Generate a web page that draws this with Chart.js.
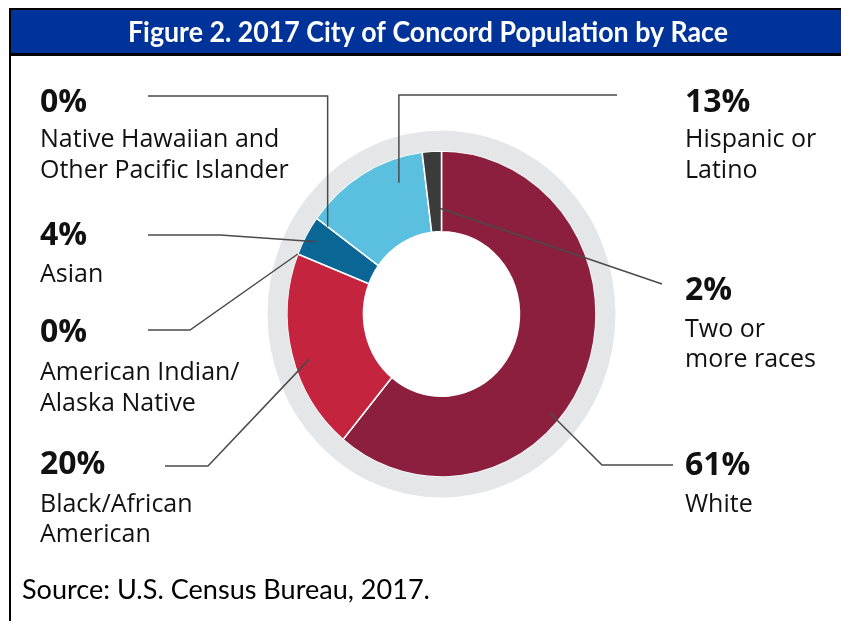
<!DOCTYPE html>
<html>
<head>
<meta charset="utf-8">
<title>2017 City of Concord Population by Race</title>
<script src="https://cdn.jsdelivr.net/npm/chart.js@4.4.1/dist/chart.umd.min.js"></script>
<style>
  html, body { margin: 0; padding: 0; background: #fff; }
  #wrap { position: relative; width: 841px; height: 621px; overflow: hidden; background: #fff; }
  canvas { position: absolute; left: 0; top: 0; }
</style>
</head>
<body>
<div id="wrap"><canvas id="chart" width="841" height="621"></canvas></div>
<script>
// ---- data ----
const categories = [
  'White',
  'Black/African American',
  'American Indian/Alaska Native',
  'Asian',
  'Native Hawaiian and Other Pacific Islander',
  'Hispanic or Latino',
  'Two or more races'
];
const shares = [61, 20, 0, 4, 0, 13, 2];          // percent of population
const nameLines = [
  ['White'],
  ['Black/African', 'American'],
  ['American Indian/', 'Alaska Native'],
  ['Asian'],
  ['Native Hawaiian and', 'Other Pacific Islander'],
  ['Hispanic or', 'Latino'],
  ['Two or', 'more races']
];
const titleText = 'Figure 2. 2017 City of Concord Population by Race';
const sourceText = 'Source: U.S. Census Bureau, 2017.';

// ---- styling ----
const sliceColors = ['#8C1F3E', '#C5243F', '#B0203F', '#0A6694', '#3FA9D2', '#5BC0DF', '#3B3B3B'];
const ringColor = '#E5E6E8';
const bandBlue = '#003399';
const lineColor = '#4A4A4A';
const SY = 1.055;   // vertical stretch of the doughnut

// label block placement: text x, percent baseline, name baselines,
// where on the slice the leader starts (fraction along the arc, fraction across the ring)
// and the fixed points of the leader path from the text side
const labelLayout = [
  { x: 685, pct: 475, names: [512],      frac: 0.596, rf: 0.855, path: [[673, 465], [602, 465]] },
  { x: 40,  pct: 474, names: [512, 542], frac: 0.45,  rf: 0.80,  path: [[165, 466], [208, 466]] },
  { x: 40,  pct: 342, names: [380, 411], frac: 0.5,   rf: 1.0,   path: [[148, 330], [190, 330]] },
  { x: 40,  pct: 245, names: [282],      frac: 0.5,   rf: 0.84,  path: [[148, 235], [220, 235]] },
  { x: 40,  pct: 112, names: [147, 178], frac: 0.5,   rf: 0.82,  path: [[148, 96], ['ax', 96]] },
  { x: 685, pct: 112, names: [147, 178], frac: 0.75,  rf: 0.70,  path: [[617, 95], ['ax', 95]] },
  { x: 685, pct: 300, names: [337, 367], frac: 0.87,  rf: 0.29,  path: [[662, 284]] }
];

function fitText(ctx, text, x, y, font, width, align) {
  ctx.save();
  ctx.font = font;
  const w = ctx.measureText(text).width;
  const k = width / w;
  ctx.translate(x, y);
  ctx.scale(k, 1);
  ctx.textAlign = align || 'left';
  ctx.fillText(text, 0, 0);
  ctx.restore();
}

// frame, blue heading band and source line
const framePlugin = {
  id: 'frame',
  beforeDraw(chart) {
    const ctx = chart.ctx;
    ctx.save();
    ctx.fillStyle = '#000';
    ctx.fillRect(9, 8, 2, 613);        // left rule
    ctx.fillRect(9, 8, 832, 2);        // top rule
    ctx.fillRect(9, 53, 832, 3);       // rule under band
    ctx.fillStyle = bandBlue;
    ctx.fillRect(11, 10, 830, 43);
    ctx.fillStyle = '#fff';
    ctx.textBaseline = 'alphabetic';
    fitText(ctx, titleText, 428, 42, 'bold 29px Lato', 600, 'center');
    ctx.fillStyle = '#000';
    fitText(ctx, sourceText, 22, 599, '26px Lato', 408, 'left');
    ctx.restore();
  }
};

// elliptical doughnut: stretch the arcs vertically about the centre
const stretchPlugin = {
  id: 'stretch',
  beforeDatasetsDraw(chart) {
    const arc = chart.getDatasetMeta(0).data[0];
    const ctx = chart.ctx;
    ctx.save();
    ctx.translate(arc.x, arc.y);
    ctx.scale(1, SY);
    ctx.translate(-arc.x, -arc.y);
  },
  afterDatasetsDraw(chart) {
    chart.ctx.restore();
  }
};

function anchorOf(chart, i, frac, rf) {
  const a = chart.getDatasetMeta(1).data[i];
  const p = a.getProps(['x', 'y', 'startAngle', 'endAngle', 'innerRadius', 'outerRadius'], true);
  const ang = p.startAngle + (p.endAngle - p.startAngle) * frac;
  const r = p.innerRadius + (p.outerRadius - p.innerRadius) * rf;
  return { x: p.x + r * Math.cos(ang), y: p.y + r * Math.sin(ang) * SY };
}

// callout labels with leader lines
const calloutPlugin = {
  id: 'callouts',
  afterDraw(chart) {
    const ctx = chart.ctx;
    ctx.save();
    ctx.strokeStyle = lineColor;
    ctx.lineWidth = 1.5;
    ctx.lineJoin = 'miter';
    labelLayout.forEach((L, i) => {
      const a = anchorOf(chart, i, L.frac, L.rf);
      ctx.beginPath();
      L.path.forEach((pt, j) => {
        const px = pt[0] === 'ax' ? a.x : pt[0];
        if (j === 0) ctx.moveTo(px, pt[1]); else ctx.lineTo(px, pt[1]);
      });
      ctx.lineTo(a.x, a.y);
      ctx.stroke();

      ctx.fillStyle = '#111';
      ctx.textAlign = 'left';
      ctx.textBaseline = 'alphabetic';
      ctx.font = 'bold 32px "Open Sans"';
      ctx.fillText(shares[i] + '%', L.x, L.pct);
      ctx.font = '25px "Open Sans"';
      nameLines[i].forEach((t, k) => ctx.fillText(t, L.x, L.names[k]));
    });
    ctx.restore();
  }
};

new Chart(document.getElementById('chart'), {
  type: 'doughnut',
  data: {
    labels: categories,
    datasets: [
      {
        data: [100],
        backgroundColor: [ringColor],
        borderWidth: 0,
        weight: 19.5
      },
      {
        data: shares,
        backgroundColor: sliceColors,
        borderColor: '#ffffff',
        borderWidth: 1.5,
        weight: 76.5
      }
    ]
  },
  options: {
    responsive: false,
    maintainAspectRatio: false,
    animation: false,
    events: [],
    radius: 174,
    cutout: '44.83%',
    layout: { padding: { left: 42, right: 0, top: 7, bottom: 0 } },
    plugins: {
      legend: { display: false },
      tooltip: { enabled: false },
      title: { display: false }
    }
  },
  plugins: [framePlugin, stretchPlugin, calloutPlugin]
});
</script>
</body>
</html>
